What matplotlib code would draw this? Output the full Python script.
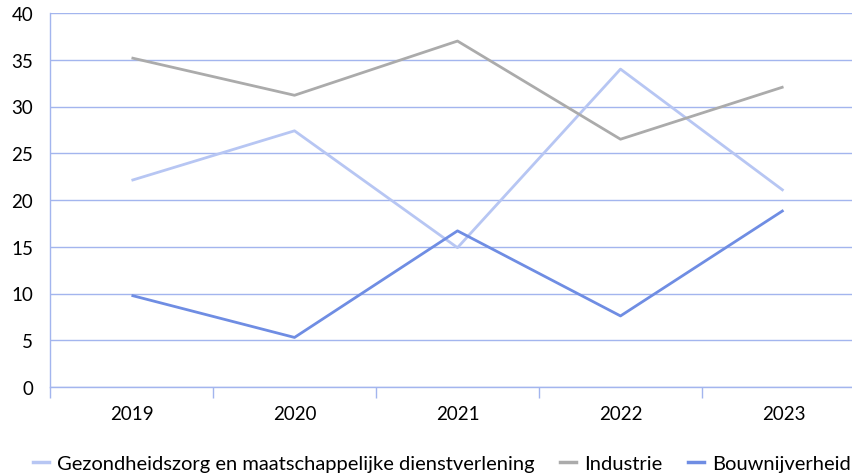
import matplotlib
matplotlib.use("Agg")
import matplotlib.pyplot as plt
from matplotlib.lines import Line2D

plt.rcParams['font.family'] = ['Lato', 'DejaVu Sans']

years = ["2019", "2020", "2021", "2022", "2023"]
zorg = [22.1, 27.4, 14.9, 34.0, 21.0]
industrie = [35.2, 31.2, 37.0, 26.5, 32.1]
bouw = [9.8, 5.3, 16.7, 7.6, 18.9]

names = ["Gezondheidszorg en maatschappelijke dienstverlening", "Industrie", "Bouwnijverheid"]
colors = ["#b7c6f3", "#ababab", "#6f8de3"]
grid_c = "#a3b5ee"

fig = plt.figure(figsize=(8.52, 4.77), dpi=100)
ax = fig.add_axes([50/852, 1-388/477, 815/852, 374/477])

x = range(len(years))
for vals, name, c in zip([zorg, industrie, bouw], names, colors):
    ax.plot(x, vals, color=c, lw=2, label=name, solid_capstyle='butt')

ax.set_xlim(-0.5, 4.5)
ax.set_ylim(0, 40)
ax.set_yticks(range(0, 41, 5))
ax.yaxis.grid(True, color=grid_c, lw=1)
ax.set_axisbelow(True)
for s in ["top", "right"]:
    ax.spines[s].set_visible(False)
for s in ["left", "bottom"]:
    ax.spines[s].set_color(grid_c)
    ax.spines[s].set_linewidth(1)

ax.set_xticks([i - 0.5 for i in range(6)])
ax.set_xticklabels([])
ax.set_xticks(list(x), minor=True)
ax.set_xticklabels(years, minor=True)
ax.tick_params(axis='x', which='major', length=8, color=grid_c, width=1)
ax.tick_params(axis='x', which='minor', length=0, pad=13, labelsize=13.5)
ax.tick_params(axis='y', length=0, pad=12, labelsize=13.5)

handles = [Line2D([], [], color=c, lw=2.5) for c in colors]
fig.legend(handles, names, loc='center left', bbox_to_anchor=(15/852, 1-464/477),
           ncol=3, frameon=False, fontsize=14.5, handlelength=0.8,
           handletextpad=0.4, columnspacing=1.25)

fig.savefig("out.png", dpi=100)
